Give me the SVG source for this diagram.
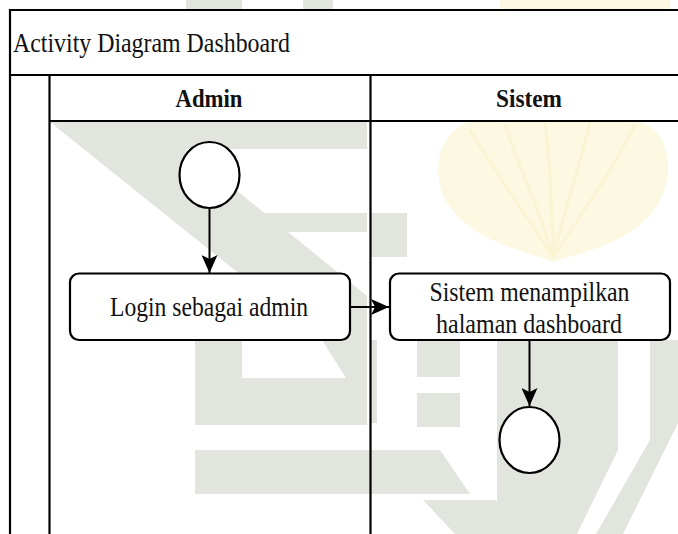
<svg xmlns="http://www.w3.org/2000/svg" width="678" height="534" viewBox="0 0 678 534">
  <style>
    .frame { fill: none; stroke: #000; stroke-width: 2.2; }
    .node { fill: #fff; stroke: #000; stroke-width: 2.2; }
    .edge { fill: none; stroke: #000; stroke-width: 2; }
    .label { font-family: "Liberation Serif", "Times New Roman", serif; font-size: 28px; fill: #111; }
    .lane { font-family: "Liberation Serif", "Times New Roman", serif; font-size: 25px; font-weight: bold; fill: #111; text-anchor: middle; }
    .wm { fill: #e2e4de; }
    .wm-gold { fill: #fcf8e1; }
    .wm-gold-line { fill: none; stroke: #faf3d4; stroke-width: 3; }
  </style>
  <defs>
    <marker id="arrow" viewBox="0 0 18 16" refX="18" refY="8" markerWidth="18" markerHeight="16" markerUnits="userSpaceOnUse" orient="auto">
      <path d="M0,0 L18,8 L0,16 L4,8 Z" fill="#000"/>
    </marker>
  </defs>

  <rect width="678" height="534" fill="#fff"/>

  <!-- faint background emblem behind the lanes -->
  <g id="watermark">
    <rect class="wm" x="186" y="0" width="56" height="9"/>
    <rect class="wm" x="303" y="0" width="30" height="9"/>
    <rect class="wm-gold" x="500" y="0" width="170" height="9"/>
    <!-- grey strokes -->
    <rect class="wm" x="130" y="122" width="237" height="27"/>
    <polygon class="wm" points="50,122 152,122 367,296 367,350 322,340"/>
    <rect class="wm" x="233" y="213" width="134" height="19"/>
    <rect class="wm" x="370" y="213" width="37" height="44"/>
    <polygon class="wm" points="195,340 242,340 242,378 346,378 322,340 367,340 367,425 195,425"/>
    <polygon class="wm" points="195,450 440,450 470,494 195,494"/>
    <rect class="wm" x="370" y="340" width="7" height="83"/>
    <rect class="wm" x="417" y="340" width="43" height="37"/>
    <rect class="wm" x="417" y="393" width="43" height="34"/>
    <polygon class="wm" points="423,500 495,500 540,534 455,534"/>
    <polygon class="wm" points="497,340 618,340 618,450 577,534 497,534"/>
    <polygon class="wm" points="650,340 678,340 678,423 623,534 596,534 650,440"/>
    <!-- gold crest -->
    <path class="wm-gold" d="M553,262 C520,250 470,240 445,200 C430,170 440,130 470,122 L640,122 C668,130 676,170 660,200 C640,240 590,250 553,262 Z"/>
    <path class="wm-gold-line" d="M553,258 C530,220 500,180 470,130 M553,258 C540,210 520,170 505,125 M553,258 C552,200 550,160 545,122 M553,258 C566,205 580,165 590,122 M553,258 C580,215 610,175 635,125"/>
  </g>

  <!-- pool and swimlane frame -->
  <g id="pool">
    <rect x="10" y="10" width="670" height="111" fill="#fff"/>
    <rect x="10" y="121" width="39.5" height="413" fill="#fff"/>
    <path class="frame" d="M10,534 V10 H680"/>
    <line class="frame" x1="10" y1="75" x2="680" y2="75"/>
    <line class="frame" x1="49.5" y1="75" x2="49.5" y2="534"/>
    <line class="frame" x1="49.5" y1="121" x2="680" y2="121"/>
    <line class="frame" x1="370.5" y1="75" x2="370.5" y2="534"/>
    <text class="label" x="13" y="52" textLength="277" lengthAdjust="spacingAndGlyphs">Activity Diagram Dashboard</text>
  </g>

  <g id="lane-admin">
    <text class="lane" x="209" y="107" textLength="67" lengthAdjust="spacingAndGlyphs">Admin</text>
  </g>
  <g id="lane-sistem">
    <text class="lane" x="529" y="107" textLength="66" lengthAdjust="spacingAndGlyphs">Sistem</text>
  </g>

  <g id="start">
    <ellipse class="node" cx="209.5" cy="175" rx="30" ry="33"/>
  </g>

  <g id="login">
    <rect class="node" x="70" y="273.5" width="280" height="66.5" rx="9"/>
    <text class="label" x="209" y="316" text-anchor="middle" textLength="198" lengthAdjust="spacingAndGlyphs">Login sebagai admin</text>
  </g>

  <g id="dashboard">
    <rect class="node" x="390" y="273.5" width="280" height="66.5" rx="9"/>
    <text class="label" x="529.5" y="300.5" text-anchor="middle" textLength="200" lengthAdjust="spacingAndGlyphs">Sistem menampilkan</text>
    <text class="label" x="529" y="332.5" text-anchor="middle" textLength="186" lengthAdjust="spacingAndGlyphs">halaman dashboard</text>
  </g>

  <g id="end">
    <ellipse class="node" cx="529.5" cy="440" rx="30" ry="33"/>
  </g>

  <g id="connectors">
    <line class="edge" x1="209.5" y1="208" x2="209.5" y2="273" marker-end="url(#arrow)"/>
    <line class="edge" x1="350" y1="307" x2="389" y2="307" marker-end="url(#arrow)"/>
    <line class="edge" x1="529.5" y1="340" x2="529.5" y2="406" marker-end="url(#arrow)"/>
  </g>
</svg>
